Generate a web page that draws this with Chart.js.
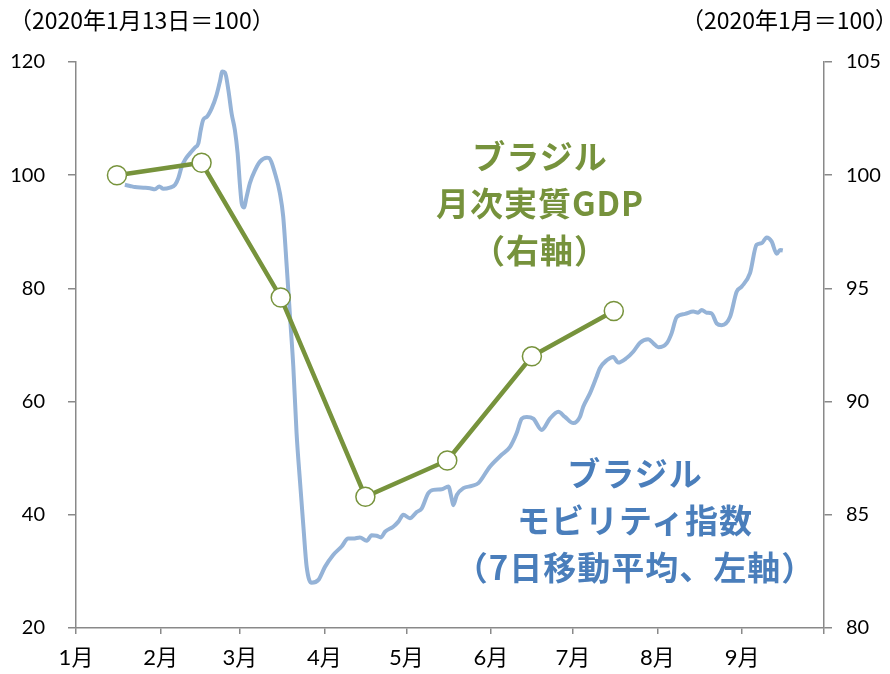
<!DOCTYPE html>
<html lang="ja">
<head>
<meta charset="utf-8">
<script src="https://cdn.jsdelivr.net/npm/chart.js@4/dist/chart.umd.min.js"></script>
<style>
  html, body { margin: 0; padding: 0; background: #fff; }
  #wrap { position: relative; width: 890px; height: 674px; overflow: hidden; }
  canvas { position: absolute; left: 0; top: 0; }
  .t { position: absolute; white-space: nowrap; font-family: "Noto Sans CJK JP", "Noto Sans", sans-serif; color: #000; }
  .ann { position: absolute; text-align: center; white-space: nowrap; font-family: "Noto Sans CJK JP", sans-serif; font-weight: bold; font-size: 33px; line-height: 47px; letter-spacing: 1px; }
</style>
</head>
<body>
<div id="wrap">
  <canvas id="c" width="890" height="674"></canvas>
  <div class="t" style="left:9px; top:2px; font-size:23px;">（2020年1月13日＝100）</div>
  <div class="t" style="right:-8px; top:2px; font-size:23px;">（2020年1月＝100）</div>
  <div class="ann" style="left:390px; width:300px; top:132px; color:#76923C;">ブラジル<br>月次実質GDP<br>（右軸）</div>
  <div class="ann" style="left:435px; width:400px; top:449px; color:#4A7EBB;">ブラジル<br>モビリティ指数<br>（7日移動平均、左軸）</div>
</div>
<script>
// ---- data ----
const monthLabels = ["1月","2月","3月","4月","5月","6月","7月","8月","9月",""];
const monthStartDays = [0,31,60,91,121,152,182,213,244,274];

// Brazil mobility index, 7-day average (left axis), day of 2020 (0 = Jan 1)
const mobilityDays = [17.9,19.8,21.6,24.7,27.1,28.9,30.5,32.0,34.4,36.3,37.5,38.7,39.9,41.8,43.6,44.8,45.7,46.6,47.9,49.7,51.5,52.7,53.6,54.6,55.8,57.0,58.2,59.2,60.1,60.7,61.5,62.5,63.7,65.6,67.4,69.9,70.8,72.9,74.7,75.9,77.2,78.4,79.6,80.8,82.1,83.3,84.5,86.3,88.8,91.2,94.2,97.3,99.7,101.6,104.0,106.5,108.3,110.1,111.7,113.2,116.2,118.1,119.9,122.3,124.8,126.6,129.0,130.9,134.0,136.4,137.6,138.2,139.5,141.9,145.0,147.4,151.6,155.9,159.0,161.4,163.3,165.1,167.5,170.6,173.6,176.7,179.1,182.2,184.6,185.8,188.3,190.7,191.9,194.4,196.8,198.6,201.7,204.1,206.6,209.6,211.5,213.3,216.4,218.2,220.0,223.1,226.1,227.9,229.2,231.0,232.8,234.7,236.5,239.6,242.0,243.8,246.9,249.3,251.2,253.0,254.8,256.7,257.9,258.9];
const mobilityValues = [98.3,98.1,97.9,97.8,97.7,97.5,98.0,97.6,97.8,98.3,99.5,101.5,102.7,103.9,104.9,105.6,108.0,109.8,110.3,111.8,114.2,116.5,118.3,118.1,115.1,110.9,108.0,103.9,98.0,95.0,94.3,96.2,98.6,100.9,102.4,103.1,103.0,100.3,96.8,92.7,83.8,75.0,66.2,54.4,45.6,37.9,30.8,28.0,28.5,30.8,32.9,34.4,35.8,35.8,36.0,35.4,36.4,36.3,36.0,37.0,37.9,38.8,40.0,39.4,40.5,41.1,43.8,44.4,44.5,45.0,42.9,41.7,43.5,44.7,45.1,45.6,48.5,50.6,52.0,54.4,57.0,57.3,57.0,55.0,57.0,58.2,57.3,56.2,57.3,59.1,61.5,64.4,65.9,67.3,67.9,66.9,67.7,68.8,70.4,71.0,70.3,69.6,70.3,72.1,74.9,75.5,75.9,75.7,76.2,75.7,75.6,73.8,73.5,75.0,79.4,80.3,82.7,87.7,88.0,89.0,88.3,86.1,86.8,86.7];

// Brazil monthly real GDP (right axis), plotted mid-month
const gdpDays = [15,46,75,106,136,167,197];
const gdpValues = [100.0,100.55,94.6,85.8,87.4,92.0,94.0];

const leftTicks = [20,40,60,80,100,120];
const rightTicks = [80,85,90,95,100,105];

// ---- chart ----
const axisGray = '#898989';
const tickFont = { family: 'Lato, "Noto Sans CJK JP", sans-serif', size: 20 };
const monthFont = { family: 'Lato, "Noto Sans CJK JP", sans-serif', size: 22 };

new Chart(document.getElementById('c'), {
  type: 'line',
  data: {
    datasets: [
      {
        label: 'GDP',
        data: gdpDays.map((d, i) => ({ x: d, y: gdpValues[i] })),
        yAxisID: 'yR',
        borderColor: '#77933C',
        borderWidth: 4.5,
        pointRadius: 9.5,
        pointBackgroundColor: '#ffffff',
        pointBorderColor: '#77933C',
        pointBorderWidth: 1.5,
        tension: 0,
        order: 0
      },
      {
        label: 'Mobility',
        data: mobilityDays.map((d, i) => ({ x: d, y: mobilityValues[i] })),
        yAxisID: 'yL',
        borderColor: '#95B3D7',
        borderWidth: 4,
        pointRadius: 0,
        cubicInterpolationMode: 'monotone',
        order: 1
      }
    ]
  },
  options: {
    responsive: false,
    animation: false,
    events: [],
    layout: { padding: { top: 62, left: 0, right: 0, bottom: 0 } },
    plugins: { legend: { display: false }, tooltip: { enabled: false } },
    scales: {
      x: {
        type: 'linear',
        min: 0, max: 274,
        afterBuildTicks: s => { s.ticks = monthStartDays.map(v => ({ value: v })); },
        afterFit: s => { s.height = 46; },
        ticks: {
          autoSkip: false, maxRotation: 0, padding: 11, color: '#000', font: monthFont,
          callback: (v, i) => monthLabels[i]
        },
        grid: { drawOnChartArea: false, drawTicks: true, tickLength: 6, color: axisGray, lineWidth: 1.5 },
        border: { display: true, color: axisGray, width: 1.5 }
      },
      yL: {
        type: 'linear', position: 'left',
        min: 20, max: 120,
        afterBuildTicks: s => { s.ticks = leftTicks.map(v => ({ value: v })); },
        afterFit: s => { s.width = 76; },
        ticks: { padding: 23, color: '#000', font: tickFont },
        grid: { drawOnChartArea: false, drawTicks: true, tickLength: 8, color: axisGray, lineWidth: 1.5 },
        border: { display: true, color: axisGray, width: 1.5 }
      },
      yR: {
        type: 'linear', position: 'right',
        min: 80, max: 105,
        afterBuildTicks: s => { s.ticks = rightTicks.map(v => ({ value: v })); },
        afterFit: s => { s.width = 66; },
        ticks: { padding: 14, color: '#000', font: tickFont },
        grid: { drawOnChartArea: false, drawTicks: true, tickLength: 8, color: axisGray, lineWidth: 1.5 },
        border: { display: true, color: axisGray, width: 1.5 }
      }
    }
  }
});
</script>
</body>
</html>
